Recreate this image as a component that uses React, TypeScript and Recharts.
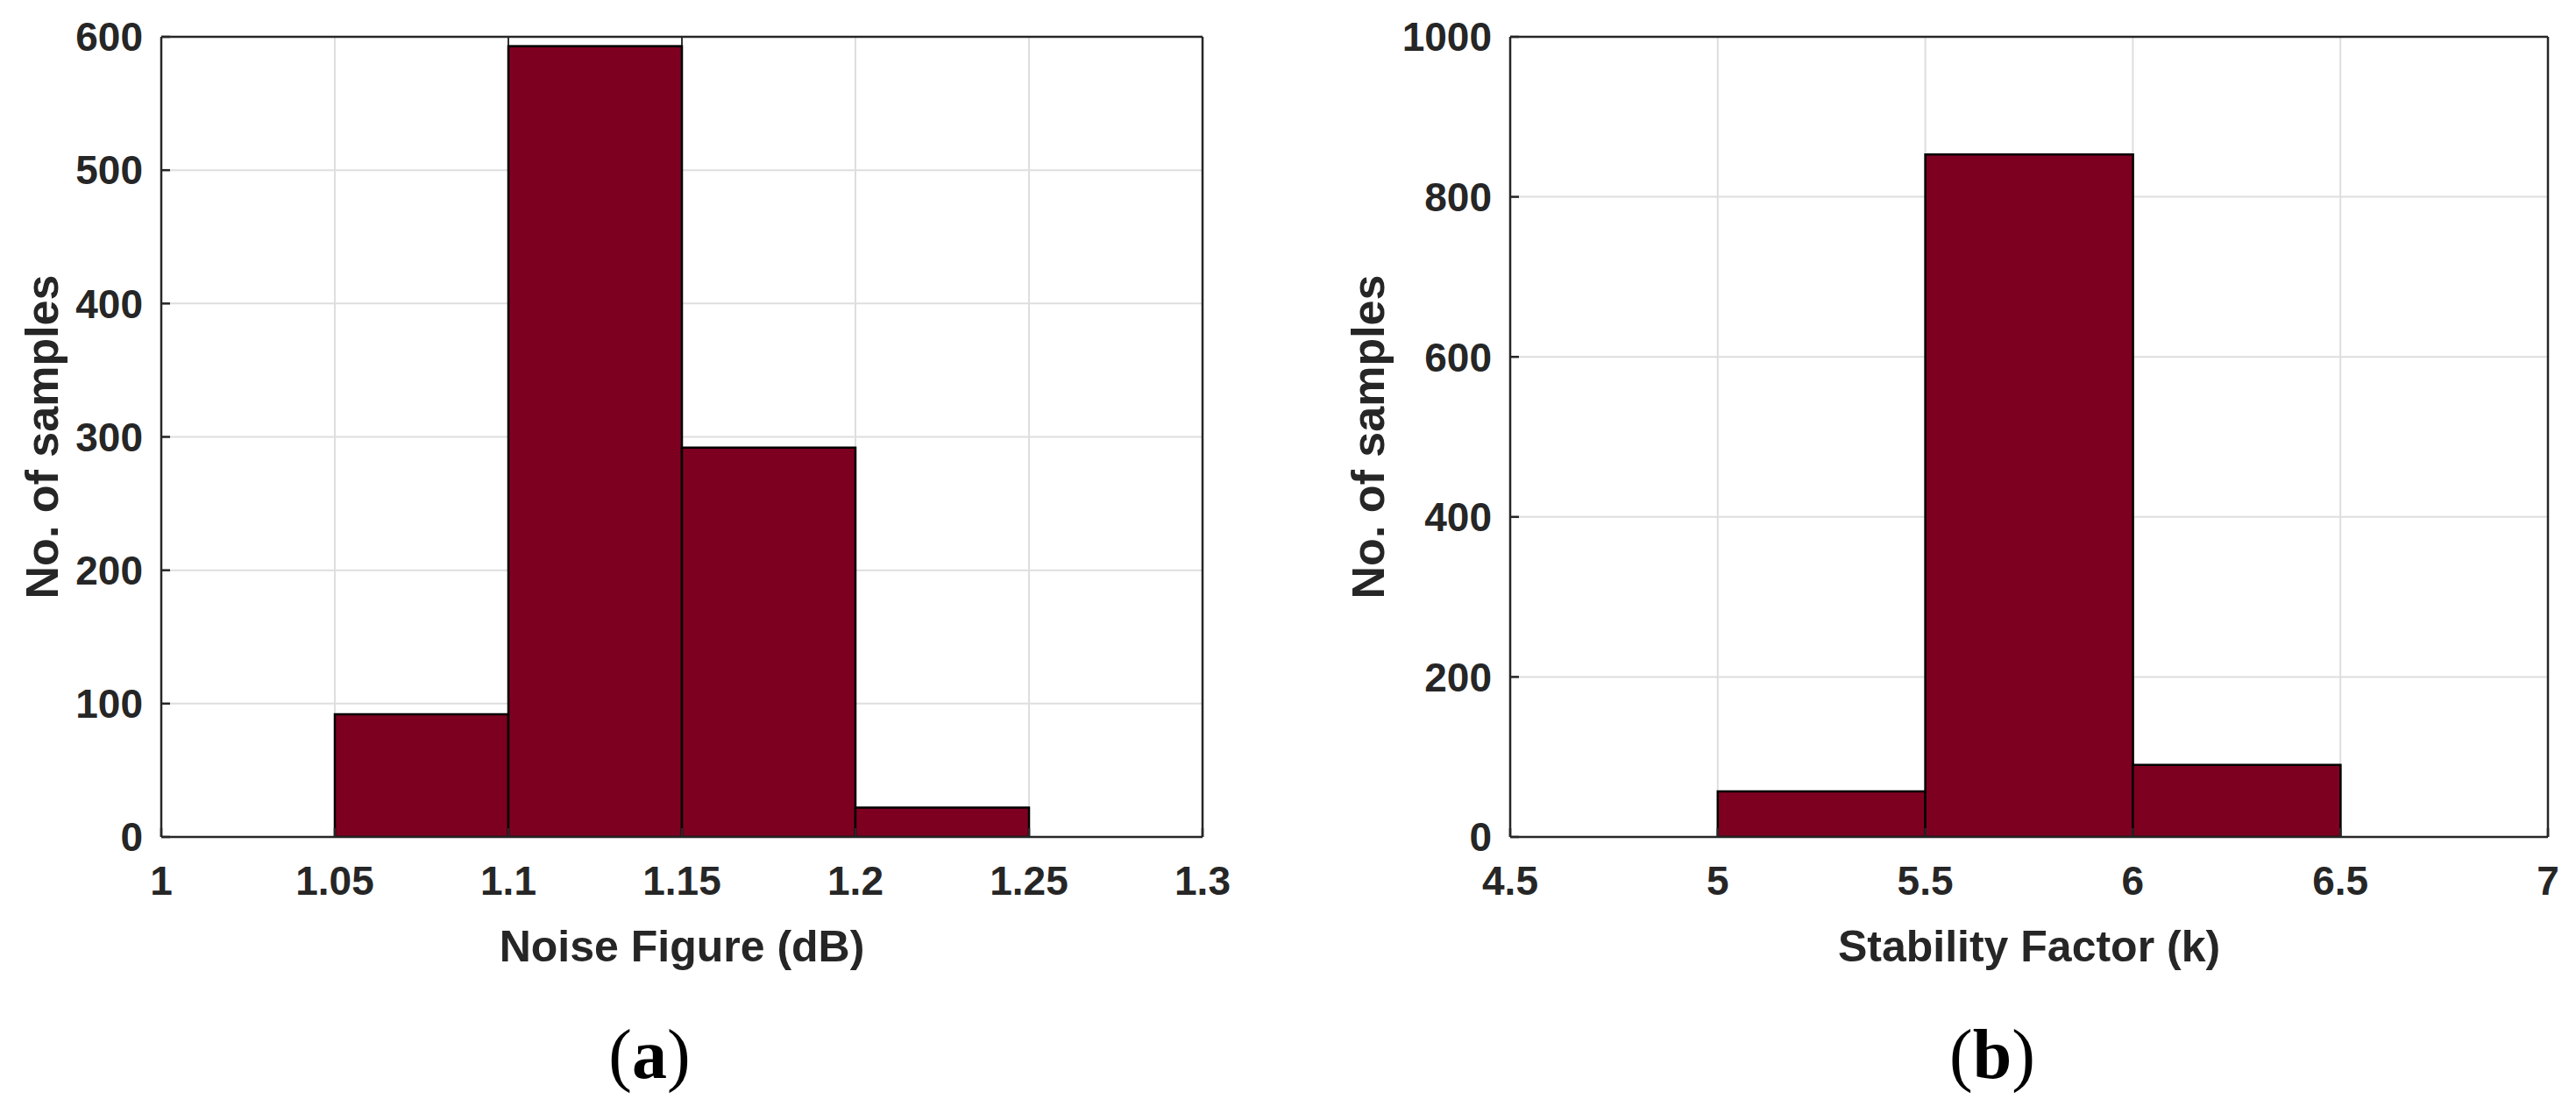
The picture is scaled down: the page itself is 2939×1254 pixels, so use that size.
import React from 'react';
import { ComposedChart, Bar, XAxis, YAxis, CartesianGrid, ReferenceArea, Label } from 'recharts';

// ---- Data: (a) Noise Figure histogram ----
const nfEdges = [1.05, 1.1, 1.15, 1.2, 1.25];
const nfCounts = [92, 593, 292, 22];
const nfXTicks = [1, 1.05, 1.1, 1.15, 1.2, 1.25, 1.3];
const nfYTicks = [0, 100, 200, 300, 400, 500, 600];

// ---- Data: (b) Stability Factor histogram ----
const kEdges = [5, 5.5, 6, 6.5];
const kCounts = [57, 853, 90];
const kXTicks = [4.5, 5, 5.5, 6, 6.5, 7];
const kYTicks = [0, 200, 400, 600, 800, 1000];

const nfXLabel = 'Noise Figure (dB)';
const kXLabel = 'Stability Factor (k)';
const yLabel = 'No. of samples';

const FONT = '"Liberation Sans", Arial, Helvetica, sans-serif';
const SERIF = '"Liberation Serif", "Times New Roman", serif';
const AX = '#262626';
const BAR = '#7E0021';
const GRID = '#dedede';

type PanelProps = {
  edges: number[];
  counts: number[];
  xTicks: number[];
  yTicks: number[];
  xLabel: string;
  caption: string;
  width: number;
  margin: { top: number; right: number; bottom: number; left: number };
  yLabelOffset: number;
  captionShift: number;
  topBox?: boolean;
};

const Panel = (p: PanelProps) => {
  const data = p.counts.map((c, i) => ({ mid: (p.edges[i] + p.edges[i + 1]) / 2, count: c }));
  const xDom: [number, number] = [p.xTicks[0], p.xTicks[p.xTicks.length - 1]];
  const yDom: [number, number] = [p.yTicks[0], p.yTicks[p.yTicks.length - 1]];
  const peak = p.counts.indexOf(Math.max(...p.counts));

  const XLab = (props: any) => {
    const vb = props.viewBox;
    const cx = vb.x + vb.width / 2;
    const y0 = vb.y + vb.height;
    return (
      <g>
        <text x={cx} y={y0 + 141} textAnchor="middle" fontFamily={FONT} fontWeight={700} fontSize={50} fill={AX}>
          {p.xLabel}
        </text>
        <text x={cx + p.captionShift} y={y0 + 274} textAnchor="middle" fontFamily={SERIF} fontSize={80} fill="#000">
          (<tspan fontWeight={700}>{p.caption}</tspan>)
        </text>
      </g>
    );
  };

  const YLab = (props: any) => {
    const vb = props.viewBox;
    const cx = vb.x + vb.width - p.yLabelOffset;
    const cy = vb.y + vb.height / 2;
    return (
      <text x={cx} y={cy} transform={`rotate(-90, ${cx}, ${cy})`} textAnchor="middle" dominantBaseline="central"
        fontFamily={FONT} fontWeight={700} fontSize={52} fill={AX}>
        {yLabel}
      </text>
    );
  };

  const tickStyle = { fill: AX, fontSize: 46, fontWeight: 700, fontFamily: FONT };
  const line = { stroke: AX, strokeWidth: 2.5 };

  return (
    <ComposedChart width={p.width} height={1254} data={data} margin={p.margin} barCategoryGap={0} barGap={0}>
      <CartesianGrid xAxisId="b" yAxisId="l" stroke={GRID} strokeWidth={2} />
      <XAxis xAxisId="b" type="number" dataKey="mid" domain={xDom} ticks={p.xTicks} allowDataOverflow
        orientation="bottom" height={1} interval={0} axisLine={line} tickLine={line}
        tickSize={-10} tickMargin={43} tick={tickStyle}>
        <Label content={XLab} />
      </XAxis>
      <XAxis xAxisId="t" type="number" dataKey="mid" domain={xDom} ticks={p.xTicks} allowDataOverflow
        orientation="top" height={1} interval={0} axisLine={line} tickLine={line}
        tickSize={-10} tick={false} />
      <YAxis yAxisId="l" type="number" domain={yDom} ticks={p.yTicks} allowDataOverflow
        orientation="left" width={1} interval={0} axisLine={line} tickLine={line}
        tickSize={-10} tickMargin={31} tick={tickStyle}>
        <Label content={YLab} />
      </YAxis>
      <YAxis yAxisId="r" type="number" domain={yDom} ticks={p.yTicks} allowDataOverflow
        orientation="right" width={1} interval={0} axisLine={line} tickLine={line}
        tickSize={-10} tick={false} />
      <Bar xAxisId="b" yAxisId="l" dataKey="count" fill={BAR} stroke="#000" strokeWidth={2.5} isAnimationActive={false} />
      {p.topBox ? (
        <ReferenceArea xAxisId="b" yAxisId="l" x1={p.edges[peak]} x2={p.edges[peak + 1]}
          y1={p.counts[peak]} y2={yDom[1]} fill="#fff" fillOpacity={1} stroke="#333" strokeWidth={2} />
      ) : null}
    </ComposedChart>
  );
};

export default function App() {
  return (
    <div style={{ position: 'absolute', left: 0, top: 0, width: 2939, height: 1254, background: '#fff' }}>
      <div style={{ position: 'absolute', left: 0, top: 0 }}>
        <Panel edges={nfEdges} counts={nfCounts} xTicks={nfXTicks} yTicks={nfYTicks} xLabel={nfXLabel}
          caption="a" width={1470} margin={{ top: 41, right: 97, bottom: 298, left: 183 }}
          yLabelOffset={136} captionShift={-37} topBox />
      </div>
      <div style={{ position: 'absolute', left: 1470, top: 0 }}>
        <Panel edges={kEdges} counts={kCounts} xTicks={kXTicks} yTicks={kYTicks} xLabel={kXLabel}
          caption="b" width={1469} margin={{ top: 41, right: 31, bottom: 298, left: 252 }}
          yLabelOffset={162} captionShift={-42} />
      </div>
    </div>
  );
}
